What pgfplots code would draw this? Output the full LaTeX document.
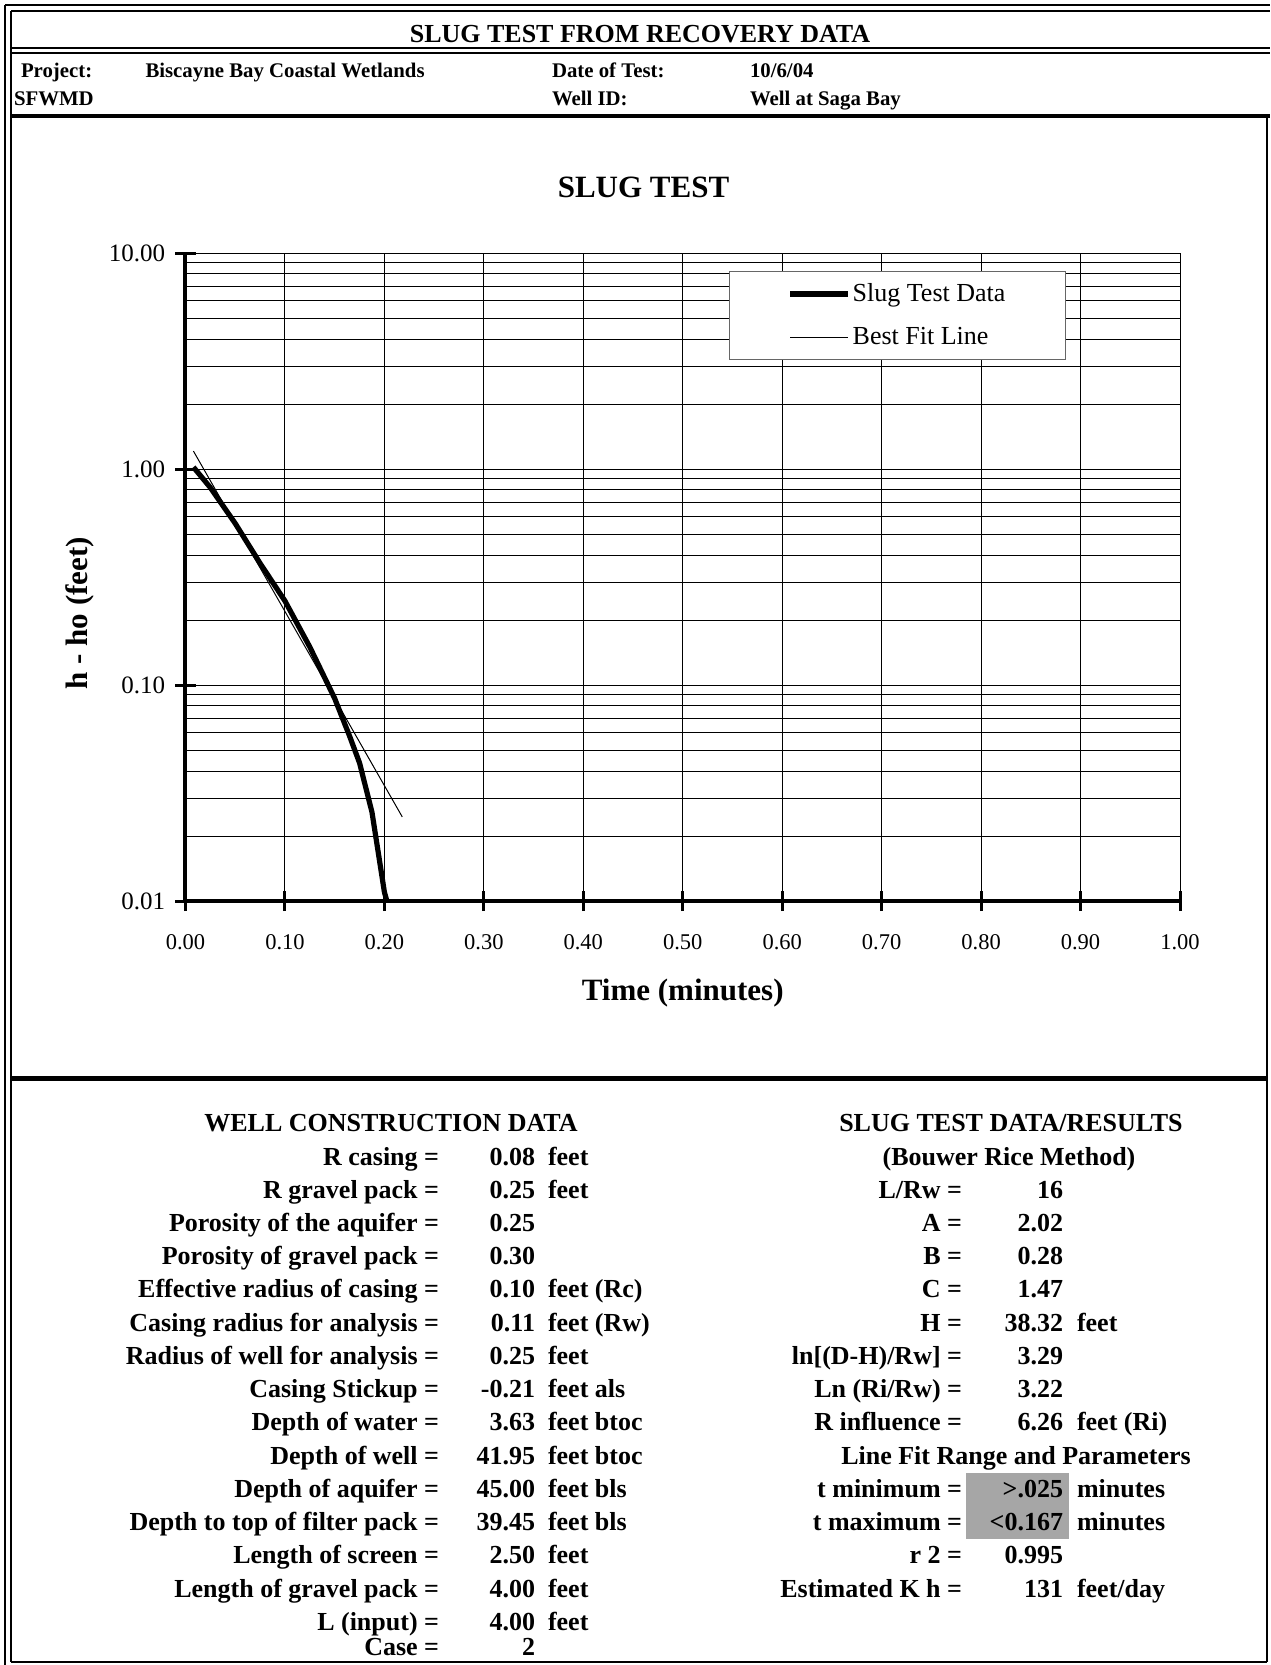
\documentclass[border=0pt]{standalone}
\usepackage{fontspec}
\setmainfont{Liberation Serif}
\usepackage{pgfplots}
\pgfplotsset{compat=1.18}
\newcommand\fB{\fontsize{13}{15}\selectfont\bfseries}
\newcommand\fH{\fontsize{10.4}{12}\selectfont\bfseries}
\newcommand\Lrow[4]{%
  \node[anchor=base east] at (439,{1165+33.23*(#1)}) {#2};
  \node[anchor=base east] at (535,{1165+33.23*(#1)}) {#3};
  \node[anchor=base west] at (548,{1165+33.23*(#1)}) {#4};}
\newcommand\Rrow[4]{%
  \node[anchor=base east] at (962,{1165+33.23*(#1)}) {#2};
  \node[anchor=base east] at (1063,{1165+33.23*(#1)}) {#3};
  \node[anchor=base west] at (1077,{1165+33.23*(#1)}) {#4};}
\begin{document}
\begin{tikzpicture}
\begin{scope}[x=0.5pt,y=-0.5pt,every node/.style={inner sep=0pt,outer sep=0pt}]
\useasboundingbox (0,0) rectangle (1270,1665);
\fill[white] (0,0) rectangle (1270,1665);
% frames
\draw[line width=0.75pt] (5,5) -- (5,1665);
\draw[line width=0.75pt] (11,11) -- (11,1662);
\draw[line width=1.25pt] (5,5) -- (1270,5);
\draw[line width=0.75pt] (11,11) -- (1270,11);
\draw[line width=0.9pt] (11,48) -- (1270,48);
\draw[line width=0.75pt] (11,53) -- (1270,53);
\draw[line width=2pt] (11,116) -- (1270,116);
\draw[line width=2.5pt] (11,1078) -- (1267,1078);
\draw[line width=0.75pt] (1267,116) -- (1267,1662);
\draw[line width=1pt] (11,1662) -- (1267,1662);
% titles
\node[anchor=base] at (640,42.6) {\fB SLUG TEST FROM RECOVERY DATA};
\node[anchor=base west] at (21,77) {\fH Project:};
\node[anchor=base west] at (145.5,77) {\fH Biscayne Bay Coastal Wetlands};
\node[anchor=base west] at (552,77) {\fH Date of Test:};
\node[anchor=base west] at (750,77) {\fH 10/6/04};
\node[anchor=base west] at (14,105) {\fH SFWMD};
\node[anchor=base west] at (552,105) {\fH Well ID:};
\node[anchor=base west] at (750,105) {\fH Well at Saga Bay};
\node[anchor=base] at (643.5,197) {\fontsize{15.5}{18}\selectfont\bfseries SLUG TEST};
% lower left block
\begin{scope}[every node/.append style={font=\fB}]
\node[anchor=base] at (391,{1165-33.23}) {WELL CONSTRUCTION DATA};
\Lrow{0}{R casing =}{0.08}{feet}
\Lrow{1}{R gravel pack =}{0.25}{feet}
\Lrow{2}{Porosity of the aquifer =}{0.25}{}
\Lrow{3}{Porosity of gravel pack =}{0.30}{}
\Lrow{4}{Effective radius of casing =}{0.10}{feet (Rc)}
\Lrow{5}{Casing radius for analysis =}{0.11}{feet (Rw)}
\Lrow{6}{Radius of well for analysis =}{0.25}{feet}
\Lrow{7}{Casing Stickup =}{-0.21}{feet als}
\Lrow{8}{Depth of water =}{3.63}{feet btoc}
\Lrow{9}{Depth of well =}{41.95}{feet btoc}
\Lrow{10}{Depth of aquifer =}{45.00}{feet bls}
\Lrow{11}{Depth to top of filter pack =}{39.45}{feet bls}
\Lrow{12}{Length of screen =}{2.50}{feet}
\Lrow{13}{Length of gravel pack =}{4.00}{feet}
\Lrow{14}{L (input) =}{4.00}{feet}
\node[anchor=base east] at (439,1655) {Case =};
\node[anchor=base east] at (535,1655) {2};
% right block
\fill[black!35] (966,1472.5) rectangle (1069,1539.3);
\node[anchor=base] at (1011,{1165-33.23}) {SLUG TEST DATA/RESULTS};
\node[anchor=base] at (1009,1165) {(Bouwer Rice Method)};
\Rrow{1}{L/Rw =}{16}{}
\Rrow{2}{A =}{2.02}{}
\Rrow{3}{B =}{0.28}{}
\Rrow{4}{C =}{1.47}{}
\Rrow{5}{H =}{38.32}{feet}
\Rrow{6}{ln[(D-H)/Rw] =}{3.29}{}
\Rrow{7}{Ln (Ri/Rw) =}{3.22}{}
\Rrow{8}{R influence =}{6.26}{feet (Ri)}
\node[anchor=base] at (1016,{1165+33.23*9}) {Line Fit Range and Parameters};
\Rrow{10}{t minimum =}{>.025}{minutes}
\Rrow{11}{t maximum =}{<0.167}{minutes}
\Rrow{12}{r 2 =}{0.995}{}
\Rrow{13}{Estimated K h =}{131}{feet/day}
\end{scope}
\end{scope}
\begin{axis}[
  at={(92.75pt,-450.5pt)}, anchor=south west,
  scale only axis, width=497.25pt, height=324pt,
  xmin=0, xmax=1, ymin=0.01, ymax=10, ymode=log,
  axis x line*=bottom, axis y line*=left,
  axis line style={line width=2pt, -},
  xtick={0,0.1,0.2,0.3,0.4,0.5,0.6,0.7,0.8,0.9,1},
  xticklabels={0.00,0.10,0.20,0.30,0.40,0.50,0.60,0.70,0.80,0.90,1.00},
  ytick={0.01,0.1,1,10},
  yticklabels={0.01,0.10,1.00,10.00},
  minor ytick={0.02,0.03,0.04,0.05,0.06,0.07,0.08,0.09,0.2,0.3,0.4,0.5,0.6,0.7,0.8,0.9,2,3,4,5,6,7,8,9},
  xmajorgrids, ymajorgrids, yminorgrids,
  major grid style={line width=0.45pt, black},
  minor grid style={line width=0.45pt, black},
  tick align=center,
  major tick length=10pt,
  minor tick length=0pt,
  major tick style={line width=1.5pt, black},
  xticklabel style={font=\fontsize{11.25}{13}\selectfont, anchor=north, inner sep=0pt, yshift=-11.5pt},
  yticklabel style={font=\fontsize{12.5}{14}\selectfont, anchor=east, inner sep=0pt, xshift=-5pt},
  xlabel={Time (minutes)}, ylabel={h - ho (feet)},
  every axis x label/.style={at={(axis description cs:0.5,-0.142)}, anchor=center, font=\fontsize{15.5}{18}\selectfont\bfseries},
  every axis y label/.style={at={(axis description cs:-0.106,0.444)}, anchor=center, rotate=90, font=\fontsize{15.5}{18}\selectfont\bfseries},
  legend style={at={(axis description cs:0.5465,0.9722)}, anchor=north west,
    draw=black!60, line width=0.5pt, fill=white, inner xsep=29pt, inner ysep=5pt,
    row sep=9.6pt, font=\fontsize{13}{15}\selectfont, nodes={inner sep=1pt}},
  legend cell align=left,
  legend image code/.code={\draw[#1] (0pt,0pt) -- (29pt,0pt);},
]
\addplot[black, line width=2.6pt, line join=round] coordinates {
 (0.008,1.02) (0.025,0.82) (0.05,0.56) (0.075,0.366) (0.10,0.245)
 (0.125,0.150) (0.15,0.0867) (0.165,0.058) (0.175,0.0436)
 (0.1875,0.0258) (0.20,0.011) (0.2025,0.01)};
\addlegendentry{Slug Test Data}
\addplot[black, line width=0.5pt] coordinates {(0.008,1.21) (0.218,0.0245)};
\addlegendentry{Best Fit Line}
\end{axis}
\end{tikzpicture}
\end{document}
